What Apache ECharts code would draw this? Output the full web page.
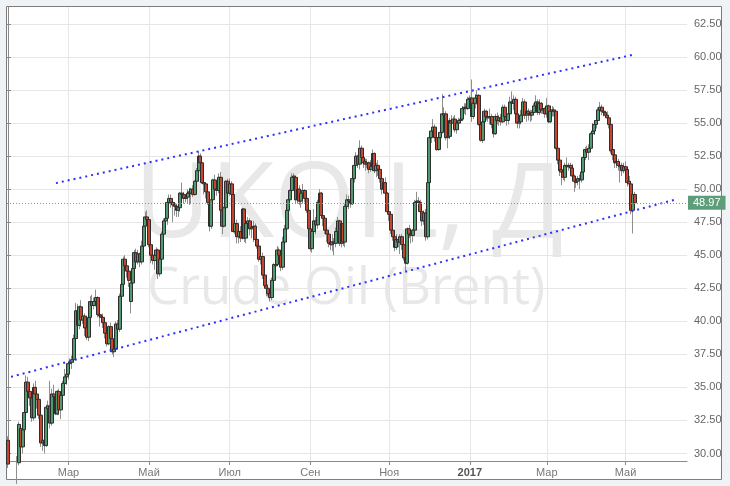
<!DOCTYPE html>
<html>
<head>
<meta charset="utf-8">
<script src="https://cdn.jsdelivr.net/npm/echarts@6/dist/echarts.min.js"></script>
<style>
html,body{margin:0;padding:0;background:#eff3f6;}
#chart{width:730px;height:486px;}
</style>
</head>
<body>
<div id="chart"></div>
<script>
// ---------- DATA ----------
const symbolName = 'UKOIL, Д';
const instrumentName = 'Crude Oil (Brent)';
const startDate = '2016-01-14';     // first trading day shown
const slotCount = 371;              // trading-day slots on the axis (incl. empty right margin)
const monthNames = ['Янв','Фев','Мар','Апр','Май','Июн','Июл','Авг','Сен','Окт','Ноя','Дек'];
const priceTickMin = 30, priceTickMax = 62.5, priceTickStep = 2.5;

// daily candles: [open, close, low, high]
const candles = [
  // Jan 2016
  [31.0,29.2,28.9,31.3],[29.2,28.9,28.2,29.4],[28.9,28.6,27.8,29.1],[28.6,28.8,27.9,29.2],[28.8,27.9,27.6,29.0],
  [27.9,29.3,27.7,29.8],[29.3,32.2,29.1,32.4],[31.9,30.5,30.3,32.1],[30.5,31.8,30.0,32.0],[31.8,33.1,31.2,33.4],
  [33.1,35.4,32.5,35.9],[35.4,34.7,33.9,35.8],
  // Feb 2016
  [34.7,34.2,33.6,35.0],[34.2,32.7,32.4,34.4],[32.7,35.0,32.5,35.3],[35.0,34.5,33.7,35.5],[34.5,34.1,33.4,34.9],
  [34.1,32.9,32.6,34.3],[32.9,30.8,30.5,33.2],[30.8,31.0,30.2,31.6],[31.0,30.6,30.0,31.3],[30.6,33.5,30.5,33.7],
  [33.4,33.6,32.8,34.0],[33.6,32.3,31.9,35.5],[32.3,34.5,32.1,34.9],[34.5,34.3,33.8,35.2],[34.3,33.0,32.9,34.6],
  [33.0,34.7,32.9,34.8],[34.7,33.3,32.9,34.9],[33.3,34.4,32.6,34.5],[34.4,35.3,34.1,35.5],[35.3,35.8,34.8,36.4],
  [35.8,36.0,35.2,36.3],
  // Mar 2016
  [36.0,36.8,35.6,37.0],[36.8,36.9,36.2,37.2],[36.9,37.1,36.4,37.4],[37.1,38.7,36.9,39.0],[38.7,40.8,38.6,41.4],
  [40.8,39.7,39.4,41.3],[39.7,41.1,39.4,41.2],[41.1,40.1,39.6,41.6],[40.1,40.4,39.8,40.9],[40.4,39.5,38.9,40.6],
  [39.5,38.8,38.6,39.9],[38.8,40.3,38.5,40.5],[40.3,41.5,40.0,41.9],[41.5,41.2,40.6,42.0],[41.2,41.5,40.9,41.8],
  [41.5,41.8,41.1,42.4],[41.8,40.5,40.3,41.9],[40.5,40.4,39.6,40.6],[40.4,40.3,40.1,40.5],[40.3,39.9,39.5,40.6],
  [39.9,39.1,38.7,40.3],[39.1,38.3,38.1,39.8],[38.3,39.6,38.2,39.7],
  // Apr 2016
  [39.6,38.7,38.5,39.9],[38.7,37.7,37.5,38.8],[37.7,37.9,37.3,38.2],[37.9,39.8,37.7,40.0],[39.8,39.4,39.0,40.1],
  [39.4,41.9,39.2,42.1],[41.9,42.8,41.5,43.1],[42.8,44.7,42.5,44.9],[44.7,44.2,43.8,45.0],[44.2,43.8,43.3,44.4],
  [43.8,43.1,42.6,44.0],[41.5,42.9,40.6,43.1],[42.9,44.0,42.6,44.3],[44.0,45.2,43.6,45.4],[45.2,44.5,44.2,45.5],
  [44.5,45.1,44.3,45.4],[45.1,44.5,44.1,45.2],[44.5,45.7,44.3,46.1],[45.7,47.2,45.4,47.4],[47.2,47.9,46.8,48.3],
  [47.9,47.7,47.2,48.4],
  // May 2016
  [47.7,45.8,45.6,47.8],[45.8,45.0,44.4,46.0],[45.0,44.6,44.3,45.6],[44.6,45.0,43.9,45.3],[45.0,45.4,44.4,45.6],
  [45.4,43.6,43.2,45.5],[43.6,44.7,43.4,44.9],[44.7,46.6,44.5,46.8],[46.6,47.6,46.1,47.8],[47.6,47.8,47.0,48.2],
  [47.8,49.0,47.3,49.2],[49.0,49.3,48.7,49.6],[49.3,49.0,48.6,49.6],[49.0,48.8,47.5,49.2],[48.8,48.7,48.0,49.0],
  [48.7,48.4,47.9,48.9],[48.4,48.6,47.9,48.9],[48.6,49.7,48.3,49.8],[49.7,49.6,49.0,50.5],[49.6,49.3,48.9,49.8],
  [49.3,49.4,49.0,49.6],[49.4,49.7,48.9,50.0],
  // Jun 2016
  [49.8,49.7,48.8,50.1],[49.7,50.0,48.9,50.1],[50.0,49.6,49.4,50.3],[49.6,50.6,49.5,50.7],[50.6,51.4,50.4,51.6],
  [51.4,52.5,51.3,52.9],[52.5,52.0,51.6,52.7],[52.0,50.5,50.4,52.0],[50.5,50.4,49.6,50.9],[50.4,49.8,49.3,50.5],
  [49.8,49.0,48.8,50.0],[49.0,47.2,46.8,49.0],[47.2,49.2,47.0,49.3],[49.2,50.7,49.1,50.8],[50.7,50.0,49.6,51.1],
  [50.0,49.9,49.5,50.4],[49.9,50.9,49.7,51.2],[50.9,48.4,47.3,51.3],[48.4,47.2,46.6,48.6],[47.2,48.6,47.1,48.7],
  [48.6,50.6,48.4,50.7],[50.6,49.7,49.4,50.8],
  // Jul 2016
  [49.7,50.4,49.5,50.8],[50.4,49.6,49.5,50.6],[49.6,46.8,46.7,49.7],[46.8,47.4,46.6,48.0],[47.4,46.4,45.9,47.7],
  [46.4,46.8,45.9,47.0],[46.8,46.3,46.0,47.2],[46.3,48.5,46.2,48.6],[48.5,46.3,46.0,48.5],[46.3,47.4,45.9,47.5],
  [47.4,47.6,46.8,47.9],[47.6,47.0,46.5,47.8],[47.0,47.1,46.3,47.5],[47.1,47.2,46.0,47.6],[47.2,46.2,45.9,47.4],
  [46.2,45.7,45.5,46.5],[45.7,44.7,44.5,45.8],[44.7,44.9,44.3,45.2],[44.9,43.5,43.2,45.2],[43.5,42.7,42.5,43.8],
  [42.7,42.5,41.9,43.0],
  // Aug 2016
  [42.5,42.1,41.9,42.8],[42.1,41.8,41.5,42.4],[41.8,43.1,41.6,43.3],[43.1,44.3,42.8,44.4],[44.2,44.3,43.6,44.7],
  [44.3,45.4,44.2,45.7],[45.4,45.0,44.6,45.6],[45.0,44.1,43.8,45.2],[44.1,46.0,43.9,46.4],[46.0,47.0,45.8,47.3],
  [47.0,48.4,46.9,48.6],[48.4,49.2,48.1,49.5],[49.2,49.9,48.6,50.0],[49.9,50.9,49.6,51.2],[51.0,50.9,50.3,51.2],
  [50.9,49.2,48.9,51.0],[49.2,50.0,48.9,50.2],[50.0,49.1,48.8,50.3],[49.1,49.7,48.6,49.9],[49.7,49.9,48.9,50.4],
  [49.9,49.3,49.0,50.0],[49.3,48.4,48.2,49.6],[48.4,47.0,46.8,48.5],
  // Sep 2016
  [47.0,45.5,45.3,47.1],[45.5,46.8,45.2,47.0],[46.8,47.6,46.6,48.5],[47.6,47.3,46.6,47.9],[47.3,49.0,47.0,49.2],
  [49.0,49.7,48.7,50.0],[49.7,48.0,47.8,49.8],[48.0,47.8,47.2,48.3],[47.8,46.9,46.6,48.0],[46.9,46.6,46.0,47.1],
  [46.6,45.9,45.6,46.8],[46.0,45.8,45.4,46.4],[45.8,46.0,45.3,46.6],[46.0,45.9,45.0,46.3],[45.9,46.8,45.6,47.1],
  [46.8,47.6,46.6,47.9],[47.6,45.9,45.7,47.7],[45.9,47.4,45.6,47.5],[47.4,46.0,45.7,47.6],[46.0,48.7,45.6,48.9],
  [48.7,49.2,48.3,49.6],[49.2,49.1,48.5,49.5],
  // Oct 2016
  [49.1,48.9,48.6,49.4],[48.9,50.8,48.8,51.0],[50.8,51.8,50.5,52.0],[51.8,52.5,51.6,52.8],[52.5,51.9,51.6,52.6],
  [51.9,53.1,51.5,53.7],[53.1,52.4,52.0,53.3],[52.4,52.0,51.6,52.9],[52.1,51.9,51.4,52.3],[51.9,52.0,51.6,52.3],
  [52.0,51.5,51.2,52.1],[51.5,51.7,51.3,52.2],[51.7,52.7,51.4,53.0],[52.7,51.4,51.2,52.8],[51.4,51.8,50.9,52.0],
  [51.8,51.5,51.0,52.2],[51.5,50.8,50.5,51.6],[50.8,50.0,49.6,50.9],[50.0,50.5,49.7,50.6],[50.5,49.7,49.5,50.9],
  [49.7,48.3,48.2,49.8],
  // Nov 2016
  [48.3,48.1,47.6,48.8],[48.1,46.9,46.6,48.3],[46.9,46.4,46.1,47.4],[46.4,45.6,45.3,46.8],[45.6,46.2,45.4,46.6],
  [46.2,46.0,45.6,46.4],[46.0,46.4,45.1,46.6],[46.4,45.8,45.4,46.6],[45.8,44.8,44.6,45.9],[44.8,44.4,43.8,44.9],
  [44.4,47.0,44.3,47.1],[47.0,46.6,46.3,47.3],[46.6,46.5,45.9,46.8],[46.5,46.9,46.0,47.0],[46.9,49.0,46.8,49.2],
  [49.0,49.1,48.6,49.8],[49.1,49.0,48.4,49.4],[49.0,48.3,48.0,49.2],[48.3,47.6,47.2,48.5],[47.6,48.2,47.3,48.4],
  [48.2,46.4,46.1,48.5],[46.4,50.5,46.2,51.0],
  // Dec 2016
  [50.5,53.9,50.3,54.1],[53.9,54.4,53.5,54.6],[54.4,54.7,54.0,55.3],[54.7,53.9,53.6,54.9],[53.9,53.0,52.9,54.2],
  [53.0,53.9,52.9,54.0],[53.9,54.3,53.5,54.6],[54.3,55.7,54.2,57.2],[55.6,55.7,55.1,56.2],[55.7,53.9,53.7,55.9],
  [53.9,54.0,53.1,54.3],[54.0,55.2,53.8,55.4],[55.2,55.0,54.6,55.6],[55.0,55.3,54.6,55.5],[55.3,54.5,54.3,55.6],
  [54.5,55.0,54.2,55.2],[55.0,55.2,54.8,55.4],[55.2,55.3,55.0,55.5],[55.3,56.1,55.2,56.3],[56.1,56.2,55.7,56.5],
  [56.2,56.1,55.6,56.5],[56.1,56.8,56.0,57.0],
  // Jan 2017
  [56.8,56.9,56.6,57.1],[56.9,55.5,55.1,58.3],[55.5,56.5,55.3,56.7],[56.5,56.9,56.1,57.2],[56.9,57.1,56.4,57.5],
  [57.1,54.9,54.8,57.2],[54.9,53.7,53.6,55.2],[53.7,55.1,53.5,55.3],[55.1,55.9,54.6,56.1],[55.9,55.5,55.2,56.0],
  [55.5,55.4,55.1,55.9],[55.4,55.5,54.9,56.1],[55.5,54.9,54.6,55.7],[54.9,54.2,53.9,55.1],[54.2,55.5,54.1,55.7],
  [55.5,55.2,54.9,55.8],[55.2,55.4,54.8,55.6],[55.4,55.1,54.8,55.7],[55.1,56.2,55.0,56.4],[56.2,55.5,55.3,56.4],
  [55.5,55.2,54.8,55.7],[55.2,55.7,54.9,55.9],
  // Feb 2017
  [55.7,56.6,55.4,57.0],[56.6,56.5,55.9,57.4],[56.5,56.8,56.0,57.1],[56.8,55.7,55.5,57.0],[55.7,55.0,54.6,55.9],
  [55.0,55.1,54.6,55.5],[55.1,55.6,54.9,56.0],[55.6,56.6,55.5,56.9],[56.6,55.6,55.3,56.8],[55.6,55.9,55.1,56.1],
  [55.9,55.7,55.2,56.1],[55.7,55.6,55.1,56.0],[55.6,55.8,55.2,56.0],[55.8,56.3,55.7,56.5],[56.3,56.6,56.0,57.1],
  [56.6,55.8,55.6,56.8],[55.8,56.5,55.6,56.8],[56.5,56.0,55.7,56.6],[56.0,56.1,55.7,56.4],[56.1,55.7,55.4,56.2],
  // Mar 2017
  [55.7,56.3,55.4,56.9],[56.3,55.1,55.0,56.4],[55.1,55.9,55.0,56.1],[55.9,56.0,55.5,56.3],[56.0,55.9,55.5,56.2],
  [55.9,53.1,53.0,56.0],[53.1,52.2,51.9,53.3],[52.2,51.4,51.0,52.4],[51.5,51.3,50.3,51.7],[51.3,50.9,50.7,51.5],
  [50.9,51.8,50.6,52.0],[51.8,51.7,51.3,52.4],[51.7,51.8,51.4,52.0],[51.8,51.6,51.1,52.0],[51.6,51.0,50.8,51.9],
  [51.0,50.6,49.8,51.1],[50.5,50.6,50.1,51.0],[50.6,50.8,50.3,51.0],[50.8,50.7,50.0,51.1],[50.7,51.3,50.5,51.5],
  [51.3,52.4,51.0,52.6],[52.4,53.0,52.2,53.2],[53.0,52.8,52.5,53.3],
  // Apr 2017
  [52.8,53.1,52.2,53.4],[53.1,54.2,52.9,54.3],[54.2,54.4,53.8,55.0],[54.4,54.9,54.1,55.2],[54.9,55.2,54.6,56.0],
  [55.2,56.0,55.1,56.2],[56.0,56.2,55.5,56.6],[56.2,55.9,55.6,56.4],[55.9,55.8,55.5,56.2],[55.8,55.6,55.5,55.9],
  [55.6,55.4,55.0,55.9],[55.4,54.9,54.6,55.6],[54.9,52.9,52.7,55.0],[53.0,52.6,52.2,53.3],[52.6,52.0,51.6,52.8],
  [52.0,52.1,51.6,52.4],[52.1,51.8,51.4,52.3],[51.7,51.8,50.5,52.0],[51.8,51.4,51.0,52.0],[51.4,51.7,51.2,52.0],
  // May 2017
  [51.7,51.5,51.0,52.1],[51.5,50.5,50.2,51.6],[50.6,50.4,49.9,51.0],[50.4,48.4,48.1,50.6],[48.4,49.6,46.65,49.8],
  [49.6,48.97,48.8,49.8]
];

// channel lines: [trading-day index, price]
const upperTrend = [[26.2, 50.46], [340.5, 60.15]];
const lowerTrend = [[1.7, 35.8], [365.2, 49.25]];

// ---------- CATEGORIES (weekday trading slots) ----------
const dates = [];
(function () {
  const d = new Date(startDate + 'T00:00:00Z');
  while (dates.length < slotCount) {
    const wd = d.getUTCDay();
    if (wd !== 0 && wd !== 6) dates.push(d.toISOString().slice(0, 10));
    d.setUTCDate(d.getUTCDate() + 1);
  }
})();
const monthOf = s => +s.slice(5, 7) - 1;
const isLabelSlot = i => i > 0 && monthOf(dates[i]) !== monthOf(dates[i - 1]) && monthOf(dates[i]) % 2 === 0;

// ---------- LAYOUT ----------
const W = 730, H = 486;
const plotL = 7, plotR = 687, plotT = 7, plotB = 461;
const tickTopY = 24, tickBottomY = 453.5;
const pxPerUnit = (tickBottomY - tickTopY) / (priceTickMax - priceTickMin);
const dataMin = priceTickMin - (plotB - tickBottomY) / pxPerUnit;
const dataMax = priceTickMax + (tickTopY - plotT) / pxPerUnit;

const lastClose = candles[candles.length - 1][1];
const bodies = candles.map(c => [c[0], c[1], Math.min(c[0], c[1]), Math.max(c[0], c[1])]);

const chart = echarts.init(document.getElementById('chart'), null, {renderer: 'canvas'});
const axisGrey = '#8a8a8a', gridGrey = '#e6e6e6';

chart.setOption({
  animation: false,
  backgroundColor: 'transparent',
  textStyle: {fontFamily: 'Liberation Sans, Arial, sans-serif'},
  graphic: [
    {type: 'rect', silent: true, z: -20,
     shape: {x: 6.5, y: 6.5, width: 715, height: 473},
     style: {fill: '#ffffff', stroke: '#7d7d7d', lineWidth: 1}},
    {type: 'text', silent: true, z: -10, x: 349, y: 207,
     style: {text: symbolName, fill: '#e8e8e8', font: '104px "Open Sans", sans-serif', align: 'center', verticalAlign: 'middle'}},
    {type: 'text', silent: true, z: -10, x: 346, y: 289,
     style: {text: instrumentName, fill: '#e8e8e8', font: '51px "Open Sans", sans-serif', align: 'center', verticalAlign: 'middle'}}
  ],
  grid: [
    {left: plotL, right: W - plotR, top: plotT, bottom: H - plotB, containLabel: false},
    {left: plotL, right: W - plotR, top: tickTopY, bottom: H - tickBottomY, containLabel: false}
  ],
  xAxis: [
    {type: 'category', gridIndex: 0, data: dates, boundaryGap: true,
     axisLine: {show: true, lineStyle: {color: axisGrey}},
     axisTick: {show: true, alignWithLabel: true, interval: isLabelSlot, length: 4, lineStyle: {color: axisGrey}},
     axisLabel: {interval: isLabelSlot, color: '#777', fontSize: 11, margin: 6,
       formatter: v => monthOf(v) === 0 ? '{b|' + v.slice(0, 4) + '}' : monthNames[monthOf(v)],
       rich: {b: {fontWeight: 'bold', color: '#555', fontSize: 11}}},
     splitLine: {show: true, interval: isLabelSlot, alignWithLabel: true, lineStyle: {color: gridGrey}}},
    {type: 'value', gridIndex: 0, min: -0.5, max: slotCount - 0.5, show: false},
    {type: 'value', gridIndex: 1, show: false}
  ],
  yAxis: [
    {type: 'value', gridIndex: 0, position: 'right', min: dataMin, max: dataMax,
     axisLine: {show: true, lineStyle: {color: axisGrey}},
     axisTick: {show: false}, axisLabel: {show: false}, splitLine: {show: false}},
    {type: 'value', gridIndex: 1, position: 'right', min: priceTickMin, max: priceTickMax, interval: priceTickStep,
     axisLine: {show: false},
     axisTick: {show: true, length: 4, lineStyle: {color: axisGrey}},
     axisLabel: {color: '#666', fontSize: 11, margin: 7, formatter: v => v.toFixed(2)},
     splitLine: {show: true, lineStyle: {color: gridGrey}}}
  ],
  series: [
    {type: 'candlestick', name: 'wicks', xAxisIndex: 0, yAxisIndex: 0, data: candles, barWidth: 1, silent: true, z: 2,
     itemStyle: {color: '#8e8e8e', color0: '#8e8e8e', borderColor: '#8e8e8e', borderColor0: '#8e8e8e', borderWidth: 1}},
    {type: 'candlestick', name: 'bodies', xAxisIndex: 0, yAxisIndex: 0, data: bodies, barWidth: 3.5, silent: true, z: 3,
     itemStyle: {color: '#4f9b6f', color0: '#c7442e', borderColor: '#2e2e2e', borderColor0: '#2e2e2e', borderWidth: 1}},
    {type: 'line', name: 'price', xAxisIndex: 1, yAxisIndex: 0, data: [], silent: true, z: 3,
     markLine: {silent: true, symbol: ['none', 'none'], animation: false,
       lineStyle: {color: '#6fa386', type: [1, 2], width: 1},
       label: {show: true, position: 'end', distance: 1, formatter: () => lastClose.toFixed(2),
         color: '#fff', backgroundColor: '#5e9d79', fontSize: 11, padding: [2, 5, 1, 5]},
       data: [{yAxis: lastClose}]}},
    {type: 'line', name: 'upper', xAxisIndex: 1, yAxisIndex: 0, data: upperTrend, showSymbol: false, silent: true, z: 4,
     lineStyle: {color: '#2f2fff', width: 2, type: [2, 4]}},
    {type: 'line', name: 'lower', xAxisIndex: 1, yAxisIndex: 0, data: lowerTrend, showSymbol: false, silent: true, z: 4,
     lineStyle: {color: '#2f2fff', width: 2, type: [2, 4]}}
  ]
});
</script>
</body>
</html>
